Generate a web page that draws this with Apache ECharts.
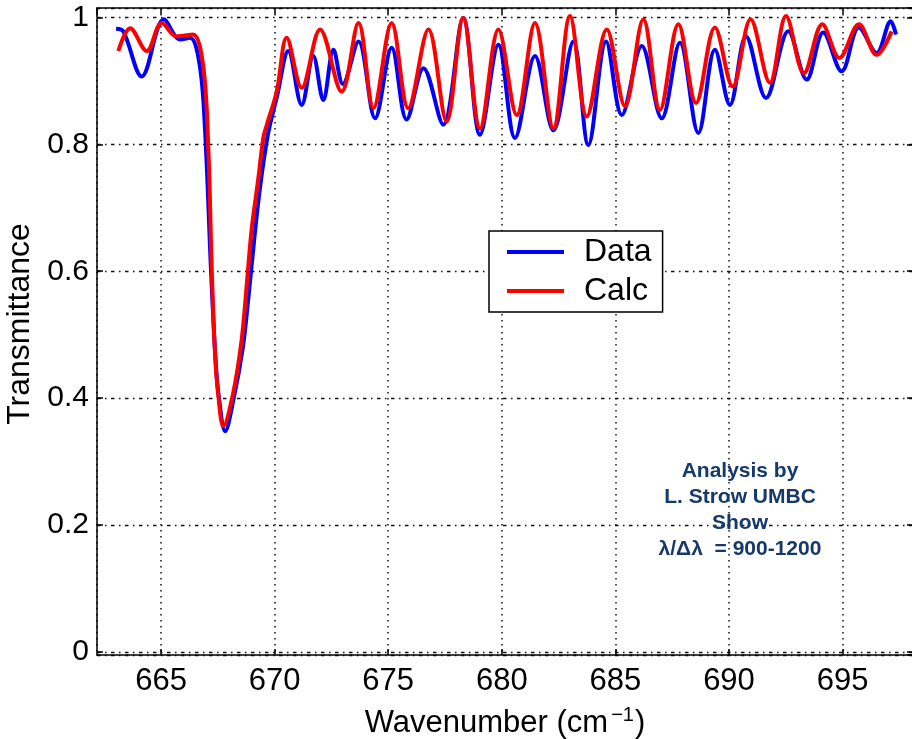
<!DOCTYPE html>
<html>
<head>
<meta charset="utf-8">
<script src="https://cdn.jsdelivr.net/npm/echarts@6/dist/echarts.min.js"></script>
<style>html,body{margin:0;padding:0;background:#fff}#c{width:912px;height:739px}</style>
</head>
<body>
<div id="c"></div>
<script>
// Wavenumber (cm^-1) and transmittance
const dataWn = [663.02,663.34,664.15,665.13,665.84,666.28,666.7,666.94,667.2,667.4,667.55,667.82,668.2,668.6,668.85,669.1,669.35,669.7,670.1,670.6,671.19,671.7,672.14,672.59,673.0,673.69,674.42,675.15,675.81,676.55,677.42,678.3,679.04,679.85,680.58,681.46,682.27,683.15,683.81,684.59,685.28,686.16,687.04,687.84,688.65,689.38,690.04,690.75,691.63,692.61,693.42,694.15,694.96,695.72,696.5,697.12,697.35];
const dataT  = [0.982,0.978,0.907,0.997,0.965,0.968,0.925,0.82,0.6,0.46,0.4,0.348,0.4,0.48,0.56,0.65,0.73,0.815,0.875,0.947,0.862,0.939,0.87,0.949,0.895,0.962,0.841,0.952,0.839,0.92,0.831,0.999,0.815,0.957,0.81,0.939,0.822,0.962,0.799,0.962,0.846,0.955,0.841,0.96,0.818,0.949,0.862,0.97,0.873,0.978,0.902,0.976,0.915,0.984,0.944,0.994,0.973];
const calcWn = [663.12,663.64,664.37,665.03,665.69,666.4,666.85,667.08,667.23,667.38,667.52,667.74,668.18,668.55,668.77,668.99,669.28,669.5,669.65,670.09,670.53,671.19,672.0,672.95,673.69,674.35,675.15,675.88,676.77,677.57,678.3,679.04,679.85,680.66,681.46,682.27,683.0,683.74,684.62,685.42,686.23,686.96,687.77,688.55,689.38,690.16,690.95,691.8,692.51,693.3,694.11,694.86,695.72,696.5,697.16];
const calcT  = [0.947,0.983,0.947,0.991,0.970,0.973,0.925,0.794,0.604,0.467,0.404,0.356,0.409,0.493,0.578,0.667,0.746,0.81,0.83,0.883,0.968,0.889,0.981,0.883,0.991,0.857,0.991,0.857,0.981,0.836,0.999,0.825,0.981,0.846,0.991,0.825,1.002,0.844,0.981,0.86,0.997,0.854,0.989,0.865,0.984,0.891,0.997,0.897,1.002,0.912,0.989,0.936,0.989,0.941,0.978];
const seriesNames = ['Data','Calc'];
const xTicks = [665,670,675,680,685,690,695];
const yTicks = [0,0.2,0.4,0.6,0.8,1];
const noteLines = ['Analysis by','L. Strow UMBC','Show','\u03bb/\u0394\u03bb  = 900-1200'];

const pair = (a,b) => a.map((v,i)=>[v,b[i]]);
const FONT = '"Liberation Sans", Arial, Helvetica, sans-serif';
const xMin = 662.18, xMax = 698.1, yMin = -0.0047, yMax = 1.0148;

const chart = echarts.init(document.getElementById('c'), null, {renderer:'canvas'});
const axisLine = {show:true, onZero:false, lineStyle:{color:'#000', width:1.5}};
const xBase = {type:'value', min:xMin, max:xMax, splitNumber:7, minInterval:5, maxInterval:5};
const yBase = {type:'value', min:yMin, max:yMax, splitNumber:5, minInterval:0.2, maxInterval:0.2};
chart.setOption({
  animation:false,
  backgroundColor:'#fff',
  grid:{left:97, top:8, width:816, height:647, containLabel:false, outerBoundsMode:'none'},
  xAxis:[
    Object.assign({}, xBase, {position:'bottom', axisLine,
      axisTick:{show:true, inside:true, length:6, lineStyle:{color:'#000', width:1.5}},
      axisLabel:{show:true, showMinLabel:false, showMaxLabel:false, margin:11, fontSize:31, fontFamily:FONT, color:'#000',
        formatter:v => xTicks.includes(Math.round(v*1000)/1000) ? String(v) : ''},
      splitLine:{show:true, lineStyle:{color:'#111', width:1.5, type:[1.5,4.5]}},
      name:'Wavenumber (cm{sup|\u22121})', nameLocation:'middle', nameGap:50,
      nameTextStyle:{fontSize:31, fontFamily:FONT, color:'#000',
        rich:{sup:{fontSize:20, fontFamily:FONT, color:'#000', verticalAlign:'top', padding:[0,1,17,3]}}}}),
    Object.assign({}, xBase, {position:'top', axisLine,
      axisTick:{show:true, inside:true, length:6, lineStyle:{color:'#000', width:1.5}},
      axisLabel:{show:false}, splitLine:{show:false}})
  ],
  yAxis:[
    Object.assign({}, yBase, {position:'left', axisLine,
      axisTick:{show:true, inside:true, length:6, lineStyle:{color:'#000', width:1.5}},
      axisLabel:{show:true, showMinLabel:false, showMaxLabel:false, margin:8, fontSize:30, fontFamily:FONT, color:'#000',
        formatter:v => yTicks.includes(Math.round(v*1000)/1000) ? String(Math.round(v*10)/10) : ''},
      splitLine:{show:true, lineStyle:{color:'#111', width:1.4, type:[3.5,4.5,1.5,4.5]}},
      name:'Transmittance', nameLocation:'middle', nameGap:43, nameRotate:90,
      nameTextStyle:{fontSize:32, fontFamily:FONT, color:'#000', padding:[0,0,0,15]}}),
    Object.assign({}, yBase, {position:'right', axisLine,
      axisTick:{show:true, inside:true, length:6, lineStyle:{color:'#000', width:1.5}},
      axisLabel:{show:false}, splitLine:{show:false}})
  ],
  legend:{
    show:true, orient:'vertical', left:489, top:231,
    data:seriesNames.map(n => ({name:n, icon:'rect'})),
    backgroundColor:'#fff', borderColor:'#000', borderWidth:1.5, borderRadius:0,
    padding:[5,11,5,18], itemWidth:57, itemHeight:4, itemGap:7,
    textStyle:{fontSize:32, fontFamily:FONT, color:'#000', padding:[0,0,0,15]}
  },
  graphic:[{
    type:'text', left:740 - 100, top:458, z:100,
    style:{text:noteLines.join('\n'), width:200, align:'center', x:100, textAlign:'center',
      font:'bold 21px ' + FONT, lineHeight:26, fill:'#16396b'}
  }],
  series:[
    {name:seriesNames[0], type:'line', data:pair(dataWn,dataT), smooth:0.35, symbol:'none', showSymbol:false,
      lineStyle:{color:'#0000ff', width:4}, itemStyle:{color:'#0000ff'}, z:2},
    {name:seriesNames[1], type:'line', data:pair(calcWn,calcT), smooth:0.35, symbol:'none', showSymbol:false,
      lineStyle:{color:'#ff0000', width:4}, itemStyle:{color:'#ff0000'}, z:3}
  ]
});
</script>
</body>
</html>
